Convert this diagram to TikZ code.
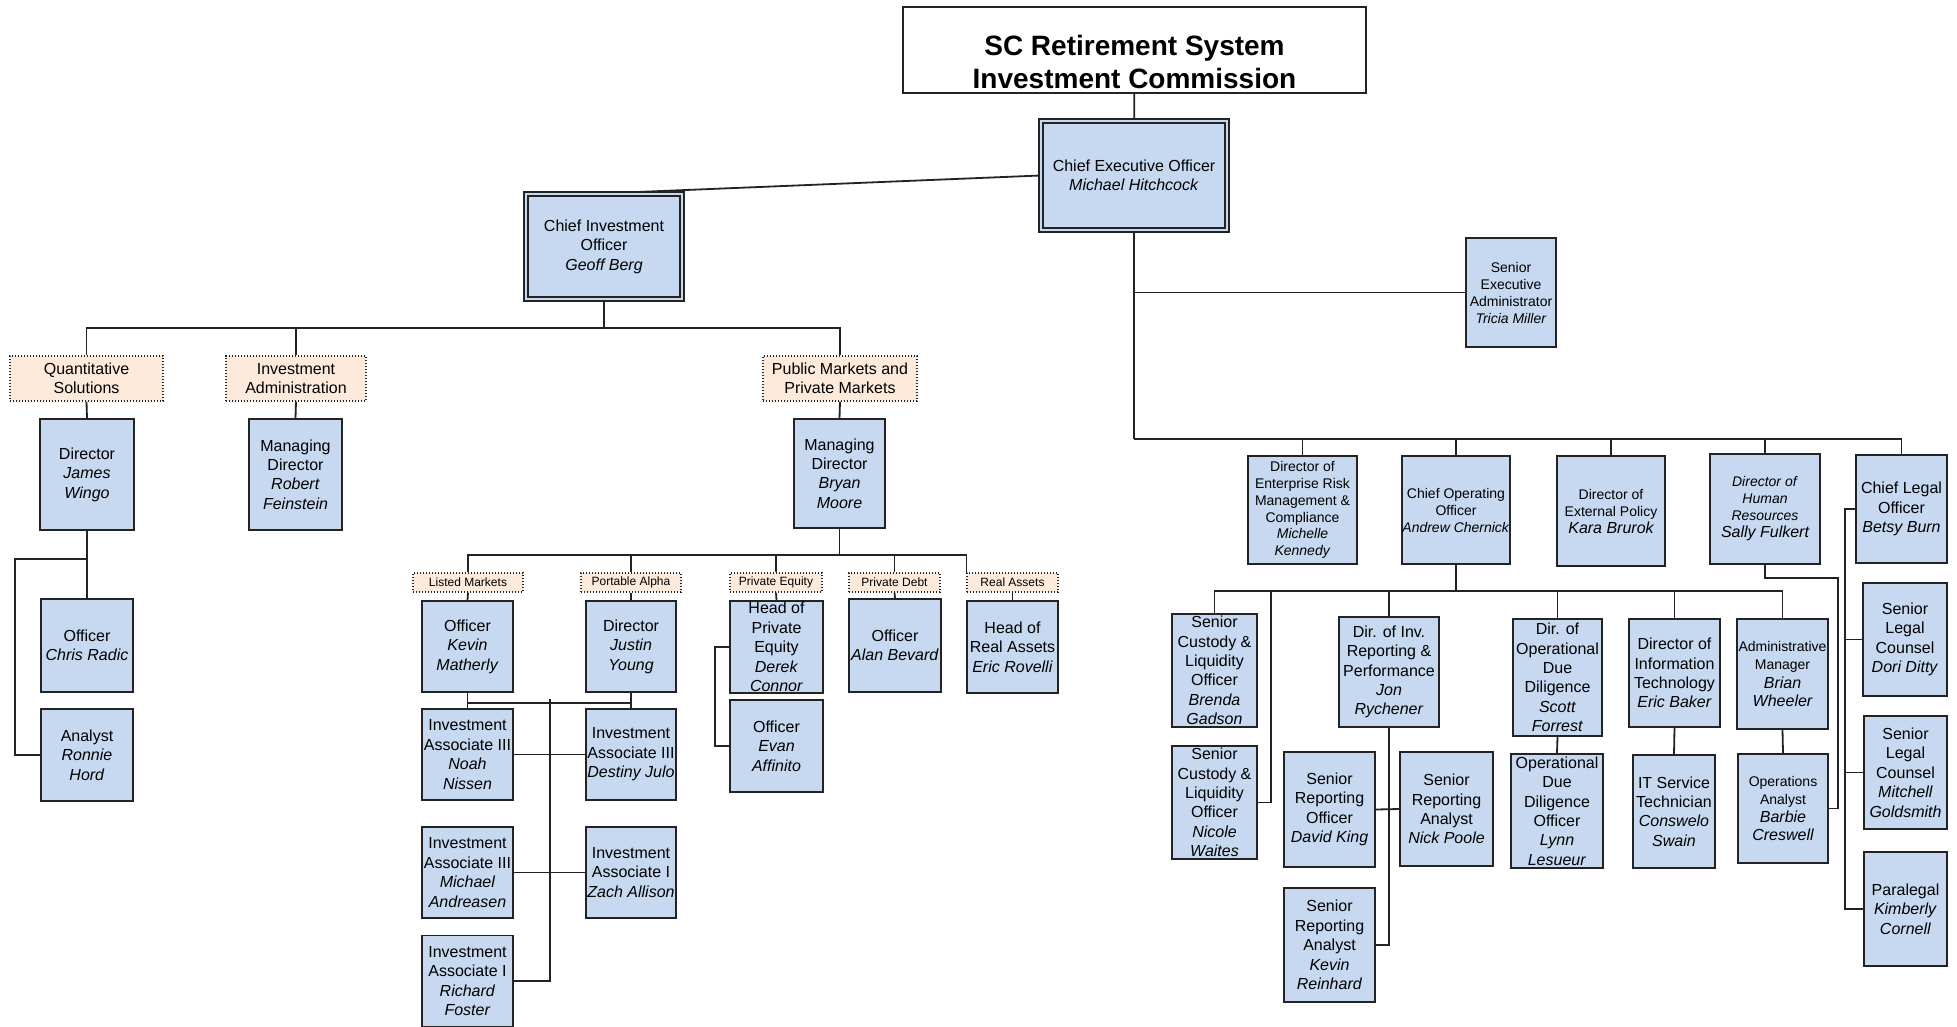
\documentclass[tikz,border=0pt]{standalone}
\usepackage{fontspec}
\setmainfont{Liberation Sans}
\usetikzlibrary{backgrounds,calc}
\pgfdeclarelayer{bottom}
\pgfsetlayers{bottom,background,main}
\definecolor{boxblue}{RGB}{198,217,240}
\definecolor{peach}{RGB}{253,234,218}
\definecolor{linec}{RGB}{35,35,35}
\newcommand{\fsz}[2]{\fontsize{#1}{#2}\selectfont}
\newcommand{\bignm}[1]{{\fsz{16}{18.5}\itshape #1}}
\begin{document}
\begin{tikzpicture}[x=1pt,y=-1pt,
  box/.style={draw=linec, fill=boxblue, line width=1.8pt, inner sep=0pt, align=center, font=\fsz{16}{19.4}},
  sbox/.style={box, font=\fsz{14}{17}},
  dbox/.style={box, double=boxblue, double distance=2.7pt, line width=1.3pt},
  lbl/.style={draw=linec, fill=peach, dash pattern=on 1.4pt off 1.6pt, line width=1.2pt, inner sep=0pt, align=center, font=\fsz{16}{19.4}},
  slbl/.style={lbl, font=\fsz{12}{14}},
  conn/.style={draw=linec, line width=1.8pt},
  sz/.style 2 args={minimum width=#1pt, minimum height=#2pt}]
\begin{pgfonlayer}{bottom}
\fill[white] (0,0) rectangle (1957,1026);
\end{pgfonlayer}
\useasboundingbox (0,0) rectangle (1957,1026);

% top
\node[draw=linec, fill=white, line width=1.8pt, inner sep=0pt, sz={463}{86}] (title) at (1134.5,50) {};
\node[inner sep=0pt, align=center, font=\fsz{28}{33}\bfseries] (titletext) at (1134.5,61.5) {SC Retirement System\\Investment Commission};
\node[dbox, sz={186}{109}] (ceo) at (1134,175.5) {Chief Executive Officer\\\textit{Michael Hitchcock}};
\node[dbox, sz={156}{105}] (cio) at (604,246.5) {Chief Investment\\Officer\\\textit{Geoff Berg}};
\node[sbox, sz={90}{109}] (sea) at (1511,292.5) {Senior\\Executive\\Administrator\\\textit{Tricia Miller}};

% investment side
\node[lbl, sz={153}{45}] (quant) at (86.5,378.5) {Quantitative\\Solutions};
\node[lbl, sz={140}{45}] (invadm) at (296,378.5) {Investment\\Administration};
\node[lbl, sz={154}{45}] (pub) at (840,378.5) {Public Markets and\\Private Markets};
\node[box, sz={94}{111}] (wingo) at (87,474.5) {Director\\\textit{James}\\\textit{Wingo}};
\node[box, sz={93}{111}] (feinstein) at (295.5,474.5) {Managing\\Director\\\textit{Robert}\\\textit{Feinstein}};
\node[box, sz={91}{109}] (moore) at (839.5,473.5) {Managing\\Director\\\textit{Bryan}\\\textit{Moore}};
\node[box, sz={92}{93}] (chris) at (87,645.5) {Officer\\\textit{Chris Radic}};
\node[box, sz={92}{92}] (ronnie) at (87,755) {Analyst\\\textit{Ronnie}\\\textit{Hord}};

\node[slbl, sz={110}{19}] (lm) at (468,582.5) {Listed Markets};
\node[slbl, sz={100}{19}] (pa) at (631,582.5) {Portable Alpha};
\node[slbl, sz={92}{19}] (pel) at (776,582.5) {Private Equity};
\node[slbl, sz={91}{19}] (pdl) at (894.5,582.5) {Private Debt};
\node[slbl, sz={91}{19}] (ral) at (1012.5,582.5) {Real Assets};

\node[box, sz={91}{91}] (kevin) at (467.5,646.5) {Officer\\\textit{Kevin}\\\textit{Matherly}};
\node[box, sz={90}{91}] (justin) at (631,646.5) {Director\\\textit{Justin}\\\textit{Young}};
\node[box, sz={93}{92}] (derek) at (776.5,647) {Head of\\Private\\Equity\\\textit{Derek}\\\textit{Connor}};
\node[box, sz={92}{93}] (bevard) at (895,645.5) {Officer\\\textit{Alan Bevard}};
\node[box, sz={91}{92}] (rovelli) at (1012.5,647) {Head of\\Real Assets\\\textit{Eric Rovelli}};
\node[box, sz={93}{92}] (evan) at (776.5,746) {Officer\\\textit{Evan}\\\textit{Affinito}};
\node[box, sz={91}{91}] (noah) at (467.5,754.5) {Investment\\Associate III\\\textit{Noah}\\\textit{Nissen}};
\node[box, sz={90}{91}] (destiny) at (631,754.5) {Investment\\Associate III\\\textit{Destiny Julo}};
\node[box, sz={91}{91}] (michael) at (467.5,872.5) {Investment\\Associate III\\\textit{Michael}\\\textit{Andreasen}};
\node[box, sz={90}{91}] (zach) at (631,872.5) {Investment\\Associate I\\\textit{Zach Allison}};
\node[box, sz={91}{91}] (richard) at (467.5,981) {Investment\\Associate I\\\textit{Richard}\\\textit{Foster}};

% operations side
\node[sbox, sz={109}{108}, font=\fsz{14}{16.8}] (erm) at (1302.5,510) {Director of\\Enterprise Risk\\Management \&\\Compliance\\\textit{Michelle}\\\textit{Kennedy}};
\node[sbox, sz={108}{108}] (coo) at (1456,510) {Chief Operating\\Officer\\\textit{Andrew Chernick}};
\node[sbox, sz={108}{110}] (ext) at (1611,511) {Director of\\External Policy\\\bignm{Kara Brurok}};
\node[sbox, sz={110}{110}] (hr) at (1765,509) {\textit{Director of}\\\textit{Human}\\\textit{Resources}\\\bignm{Sally Fulkert}};
\node[box, sz={91}{108}] (clo) at (1901.5,509) {Chief Legal\\Officer\\\textit{Betsy Burn}};

\node[box, sz={85}{113}] (brenda) at (1214.5,670.5) {Senior\\Custody \&\\Liquidity\\Officer\\\textit{Brenda}\\\textit{Gadson}};
\node[box, sz={85}{113}] (nicole) at (1214.5,802.5) {Senior\\Custody \&\\Liquidity\\Officer\\\textit{Nicole}\\\textit{Waites}};
\node[box, sz={100}{110}] (jon) at (1389,672) {Dir. of Inv.\\Reporting \&\\Performance\\\textit{Jon}\\\textit{Rychener}};
\node[box, sz={89}{117}] (scott) at (1557.5,677.5) {Dir. of\\Operational\\Due\\Diligence\\\textit{Scott}\\\textit{Forrest}};
\node[box, sz={91}{108}] (ebaker) at (1674.5,673) {Director of\\Information\\Technology\\\textit{Eric Baker}};
\node[sbox, sz={91}{110}, font=\fsz{14}{18.5}] (brian) at (1782.5,674) {Administrative\\Manager\\\bignm{Brian}\\\bignm{Wheeler}};
\node[box, sz={91}{115}] (david) at (1329.5,809.5) {Senior\\Reporting\\Officer\\\textit{David King}};
\node[box, sz={93}{114}] (nick) at (1446.5,809) {Senior\\Reporting\\Analyst\\\textit{Nick Poole}};
\node[box, sz={91}{114}] (kevinr) at (1329.5,945) {Senior\\Reporting\\Analyst\\\textit{Kevin}\\\textit{Reinhard}};
\node[box, sz={92}{114}] (lynn) at (1557,811) {Operational\\Due\\Diligence\\Officer\\\textit{Lynn}\\\textit{Lesueur}};
\node[box, sz={82}{113}] (swain) at (1674,811.5) {IT Service\\Technician\\\textit{Conswelo}\\\textit{Swain}};
\node[sbox, sz={90}{109}, font=\fsz{14}{18}] (barbie) at (1783,808.5) {Operations\\Analyst\\\bignm{Barbie}\\\bignm{Creswell}};
\node[box, sz={84}{113}] (dori) at (1905,639.5) {Senior\\Legal\\Counsel\\\textit{Dori Ditty}};
\node[box, sz={83}{113}] (mitchell) at (1905.5,772.5) {Senior\\Legal\\Counsel\\\textit{Mitchell}\\\textit{Goldsmith}};
\node[box, sz={83}{114}] (kimberly) at (1905.5,909) {Paralegal\\\textit{Kimberly}\\\textit{Cornell}};

\begin{scope}[on background layer={conn}]
\draw (title) -- (ceo);
\draw (ceo.west) -- (cio.north);
\coordinate (ceoBus) at (1134,439);
\draw (ceo.south) -- (ceoBus);
\draw (sea.west) -| (ceo.south);
\foreach \n in {erm,coo,ext,hr,clo} \draw (\n.north) |- (ceoBus);
\coordinate (cioBus) at (604,328);
\draw (cio.south) -- (cioBus);
\foreach \n in {quant,invadm,pub} \draw (\n.north) |- (cioBus);
\draw (quant.south) -- (wingo.north);
\draw (invadm.south) -- (feinstein.north);
\draw (pub.south) -- (moore.north);
\draw (wingo.south) -- (chris.north);
\draw (wingo.south) ++(0,28) -- ++(-72,0) |- (ronnie.west);
\coordinate (pmBus) at (839.5,555);
\draw (moore.south) -- (pmBus);
\foreach \n in {lm,pa,pel,pdl} \draw (\n.north) |- (pmBus);
\draw (ral.north west) |- (pmBus);
\draw (lm.south) -- (kevin.north);
\draw (pa.south) -- (justin.north);
\draw (pel.south) -- (derek.north);
\draw (pdl.south) -- (bevard.north);
\draw (ral.south) -- (rovelli.north);
\draw (derek.west) -- ++(-14,0) |- (evan.west);
\draw (kevin.south) -- (noah.north);
\draw (justin.south) -- (destiny.north);
\coordinate (kj) at (631,703);
\draw (kevin.south |- kj) -- (kj);
\coordinate (iaTop) at (550,699);
\draw (iaTop) |- (richard.east);
\draw (noah.east) -- (destiny.west);
\draw (michael.east) -- (zach.west);
\coordinate (cooBus) at (1456,591);
\draw (coo.south) -- (cooBus);
\foreach \n in {brenda,jon,scott,ebaker,brian} \draw (\n.north) |- (cooBus);
\coordinate (nicTop) at (1271,591);
\draw (nicole.east) -| (nicTop);
\draw (jon.south) |- (kevinr.east);
\draw (david.east) -- (nick.west);
\draw (scott.south) -- (lynn.north);
\draw (ebaker.south) -- (swain.north);
\draw (brian.south) -- (barbie.north);
\coordinate (hrA) at (1838,578);
\draw (hr.south) |- (hrA) |- (barbie.east);
\coordinate (legBot) at (1845,909);
\draw (clo.west) -| (legBot) -- (kimberly.west);
\draw (dori.west) -- (dori.west -| legBot);
\draw (mitchell.west) -- (mitchell.west -| legBot);
\end{scope}
\end{tikzpicture}
\end{document}
